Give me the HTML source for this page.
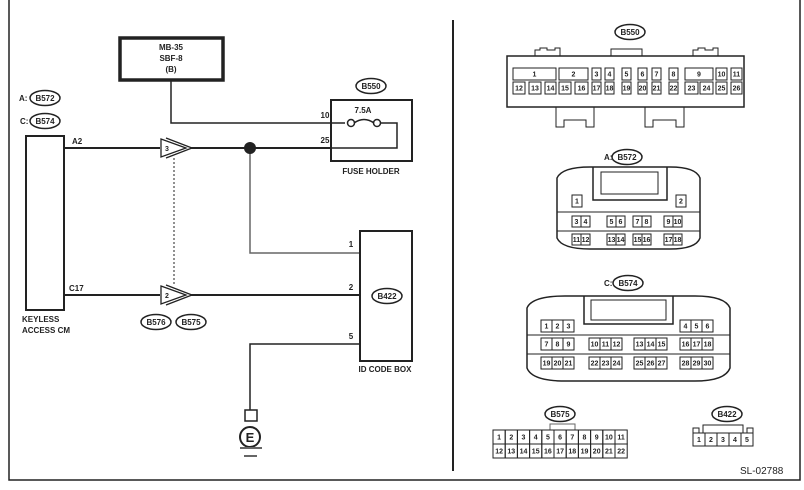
<!DOCTYPE html>
<html><head><meta charset="utf-8"><style>
html,body{margin:0;padding:0;background:#fff}
svg{display:block}
text{font-family:"Liberation Sans",Arial,sans-serif;font-weight:bold;fill:#222}
</style></head><body>
<svg id="s" width="804" height="490" viewBox="0 0 804 490" xmlns="http://www.w3.org/2000/svg">
<g fill="none" stroke="#222" stroke-width="1.5">
<path d="M9 0 V480 H800 V0" stroke-width="1.5"/>
<line x1="453" y1="20" x2="453" y2="471" stroke-width="2"/>
<rect x="120" y="38" width="103" height="42" stroke-width="3.5"/>
<path d="M171 80 V123 H345"/>
<rect x="331" y="100" width="81" height="61" stroke-width="2"/>
<circle cx="351" cy="123" r="3.5" fill="#fff"/><circle cx="377" cy="123" r="3.5" fill="#fff"/>
<path d="M354 123 Q364 116 374 123"/>
<path d="M380 123 H397 V148 H331"/>
<rect x="26" y="136" width="38" height="174" stroke-width="2"/>
<line x1="64" y1="148" x2="160" y2="148" stroke-width="2"/>
<line x1="190" y1="148" x2="331" y2="148" stroke-width="2"/>
<line x1="64" y1="295" x2="160" y2="295" stroke-width="2"/>
<line x1="190" y1="295" x2="360" y2="295" stroke-width="2"/>
<path d="M161 139 L186 148 L161 157 Z" stroke-width="1.3"/>
<path d="M166 138 L192 148 L166 158" stroke-width="1.3"/>
<path d="M161 286 L186 295 L161 304 Z" stroke-width="1.3"/>
<path d="M166 285 L192 295 L166 305" stroke-width="1.3"/>
<line x1="174" y1="158" x2="174" y2="286" stroke-dasharray="2,2" stroke-width="1"/>
<path d="M250 148 V253 H360" stroke="#666"/>
<rect x="360" y="231" width="52" height="130" stroke-width="2"/>
<path d="M360 344 H250 V410"/>
<rect x="245" y="410" width="12" height="11"/>
<circle cx="250" cy="437" r="10" stroke-width="2"/>
<line x1="240" y1="448" x2="262" y2="448" stroke="#666" stroke-width="2"/>
<line x1="244" y1="456" x2="257" y2="456" stroke="#666" stroke-width="2"/>
<ellipse cx="371" cy="86" rx="15" ry="7.5"/>
<ellipse cx="45" cy="98" rx="15" ry="7.5"/>
<ellipse cx="45" cy="121" rx="15" ry="7.5"/>
<ellipse cx="156" cy="322" rx="15" ry="7.5"/>
<ellipse cx="191" cy="322" rx="15" ry="7.5"/>
<ellipse cx="387" cy="296" rx="15" ry="7.5"/>
<ellipse cx="630" cy="32" rx="15" ry="7.5"/>
<ellipse cx="627" cy="157" rx="15" ry="7.5"/>
<ellipse cx="628" cy="283" rx="15" ry="7.5"/>
<ellipse cx="560" cy="414" rx="15" ry="7.5"/>
<ellipse cx="727" cy="414" rx="15" ry="7.5"/>
<rect x="507" y="56" width="237" height="51"/>
<path d="M535 56 V50 H540 V48 H547 V50 H555 V48 H560 V56" stroke-width="1"/>
<path d="M611 56 V49 H642 V56" stroke-width="1"/>
<path d="M693 56 V50 H698 V48 H705 V50 H713 V48 H718 V56" stroke-width="1"/>
<path d="M556 107 V127 H564 V120 H586 V127 H594 V107" stroke-width="1"/>
<path d="M645 107 V127 H653 V120 H676 V127 H684 V107" stroke-width="1"/>
<path d="M557 178 Q562 167 590 167 H670 Q696 167 700 178 V238 Q696 249 670 249 H590 Q562 249 557 238 Z"/>
<path d="M593 167 V200 H667 V167" /><rect x="601" y="172" width="57" height="22" stroke-width="1"/>
<line x1="557" y1="212" x2="700" y2="212" stroke-width="1"/>
<line x1="557" y1="231" x2="700" y2="231" stroke-width="1"/>
<path d="M527 308 Q532 296 565 296 H695 Q725 296 730 308 V368 Q725 381 695 381 H565 Q532 381 527 368 Z"/>
<path d="M584 296 V324 H673 V296"/><rect x="591" y="300" width="75" height="20" stroke-width="1"/>
<line x1="527" y1="335" x2="730" y2="335" stroke-width="1"/>
<line x1="527" y1="354" x2="730" y2="354" stroke-width="1"/>
<path d="M550 430 V424 H575 V430" stroke-width="1" stroke="#666"/>
<path d="M693 433 V428 H699 V433 M703 433 V425 H743 V433 M747 433 V428 H753 V433" stroke-width="1"/>
</g>
<circle cx="250" cy="148" r="6" fill="#222"/>
<g font-size="8" text-anchor="middle">
<text x="171" y="50">MB-35</text><text x="171" y="61">SBF-8</text><text x="171" y="72">(B)</text>
<text x="371" y="89">B550</text><text x="363" y="113">7.5A</text>
<text x="371" y="174">FUSE HOLDER</text>
<text x="325" y="118">10</text><text x="325" y="143">25</text>
<text x="45" y="101">B572</text><text x="45" y="124">B574</text>
<text x="156" y="325">B576</text><text x="191" y="325">B575</text>
<text x="387" y="299">B422</text>
<text x="351" y="247">1</text><text x="351" y="290">2</text><text x="351" y="339">5</text>
<text x="385" y="372">ID CODE BOX</text>
<text x="167" y="151" font-size="7">3</text><text x="167" y="298" font-size="7">2</text>
<text x="250" y="442" font-size="13">E</text>
<text x="630" y="35">B550</text><text x="627" y="160">B572</text><text x="628" y="286">B574</text>
<text x="560" y="417">B575</text><text x="727" y="417">B422</text>
</g>
<g font-size="8">
<text x="19" y="101">A:</text>
<text x="20" y="124">C:</text>
<text x="72" y="144">A2</text><text x="69" y="291">C17</text>
<text x="22" y="322">KEYLESS</text><text x="22" y="333">ACCESS CM</text>
<text x="604" y="160">A:</text><text x="604" y="286">C:</text>
</g>
<text x="740" y="474" font-size="10" style="font-weight:normal">SL-02788</text>
<g id="pins" fill="none" stroke="#222" stroke-width="1"></g>
<g id="pt" font-size="7" text-anchor="middle" style="font-weight:normal"></g>
</svg>
<script>
(function(){
var P=document.getElementById('pins'),T=document.getElementById('pt'),ns='http://www.w3.org/2000/svg';
function box(x,y,w,h,l){var r=document.createElementNS(ns,'rect');r.setAttribute('x',x);r.setAttribute('y',y);r.setAttribute('width',w);r.setAttribute('height',h);P.appendChild(r);
var t=document.createElementNS(ns,'text');t.setAttribute('x',x+w/2);t.setAttribute('y',y+h/2+2.5);t.textContent=l;T.appendChild(t);}
var topRow=[[513,43,'1'],[559,29,'2'],[592,9,'3'],[605,9,'4'],[622,9,'5'],[638,9,'6'],[652,9,'7'],[669,9,'8'],[685,28,'9'],[716,11,'10'],[731,11,'11']];
topRow.forEach(function(a){box(a[0],68,a[1],12,a[2]);});
var botRow=[[513,12],[529,12],[545,11],[559,12],[575,13],[592,9],[605,9],[622,9],[638,9],[652,9],[669,9],[685,13],[700,13],[716,11],[731,11]];
botRow.forEach(function(a,i){box(a[0],82,a[1],12,String(12+i));});
box(572,195,10,12,'1');box(676,195,10,12,'2');
[[572,3],[607,5],[633,7],[664,9]].forEach(function(g){box(g[0],216,9,11,g[1]);box(g[0]+9,216,9,11,g[1]+1);});
[[572,11],[607,13],[633,15],[664,17]].forEach(function(g){box(g[0],234,9,11,g[1]);box(g[0]+9,234,9,11,g[1]+1);});
function tri(x,y,n){for(var i=0;i<3;i++)box(x+i*11,y,11,12,String(n+i));}
tri(541,320,1);tri(680,320,4);
tri(541,338,7);tri(589,338,10);tri(634,338,13);tri(680,338,16);
tri(541,357,19);tri(589,357,22);tri(634,357,25);tri(680,357,28);
for(var i=0;i<11;i++){box(493+i*12.2,430,12.2,14,String(i+1));box(493+i*12.2,444,12.2,14,String(i+12));}
for(var j=0;j<5;j++)box(693+j*12,433,12,13,String(j+1));
})();
</script>
</body></html>
